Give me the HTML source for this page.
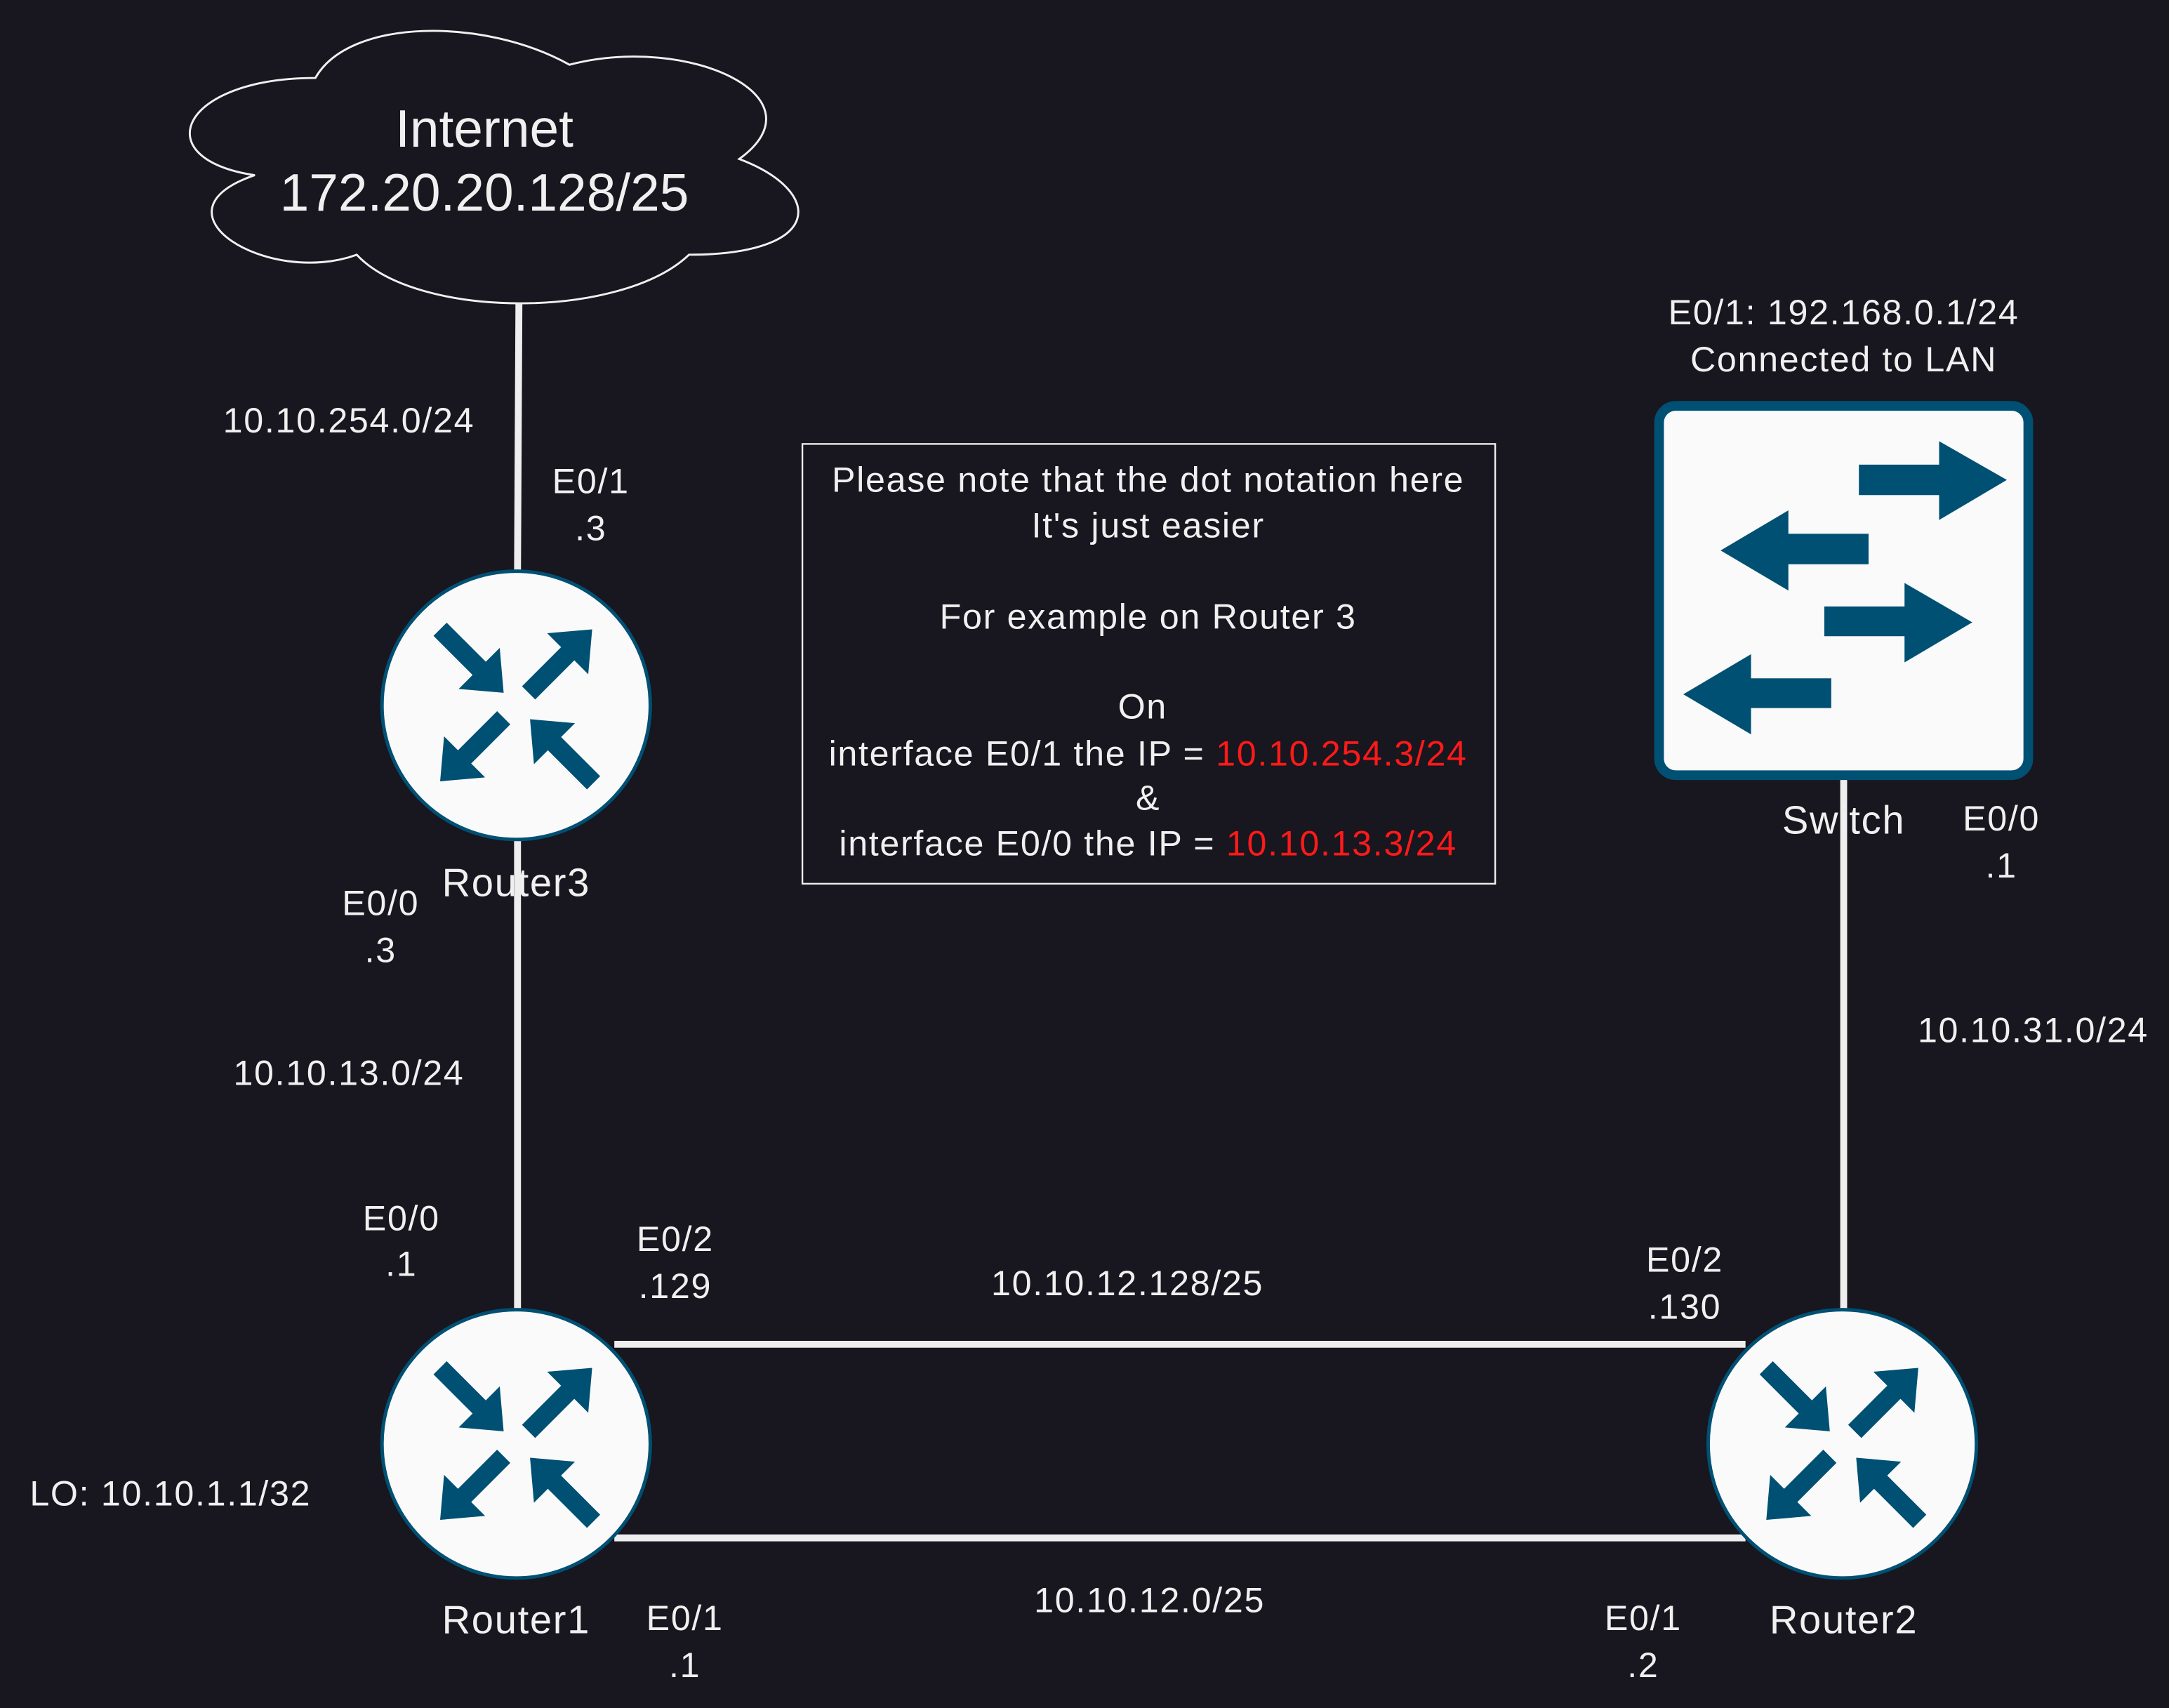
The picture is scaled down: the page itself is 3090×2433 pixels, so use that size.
<!DOCTYPE html>
<html><head><meta charset="utf-8"><style>
html,body{margin:0;padding:0;background:#18161e;}
svg{display:block;}
text{font-family:"Liberation Sans",Arial,sans-serif;fill:#f0f0f0;text-anchor:middle;dominant-baseline:central;}
.ls{letter-spacing:0.85px;}
</style></head><body>
<svg width="3090" height="2433" viewBox="0 0 1568 1235" xmlns="http://www.w3.org/2000/svg">
<defs>
<path id="ar" d="M0,-6.75 L40,-6.75 L40,-21 L65,0 L40,21 L40,6.75 L0,6.75 Z" fill="#005073"/>
<g id="router">
<circle cx="0" cy="0" r="97" fill="#fafafa" stroke="#005073" stroke-width="2.5"/>
<use href="#ar" transform="translate(-55,-55) rotate(45)"/>
<use href="#ar" transform="translate(9,-9) rotate(-45)"/>
<use href="#ar" transform="translate(-9,9) rotate(135)"/>
<use href="#ar" transform="translate(56,56) rotate(-135)"/>
</g>
</defs>
<rect width="1568" height="1235" fill="#18161e"/>
<g stroke="#eeeeee" stroke-width="5" fill="none">
<line x1="375" y1="218" x2="374" y2="412"/>
<line x1="374" y1="608" x2="374" y2="946"/>
<line x1="1333" y1="562" x2="1333" y2="946"/>
<line x1="444" y1="972" x2="1262" y2="972"/>
<line x1="444" y1="1112" x2="1262" y2="1112"/>
</g>
<g transform="translate(105,1) scale(1.068,1.065)">
<path d="M115,52 C23,52 0,107 74,118 C0,143 83,194 143,172 C184,216 322,216 368,172 C460,172 460,129 402,107 C460,65 368,22 287,43 C230,11 138,11 115,52 Z" fill="#18161e" stroke="#f0f0f0" stroke-width="1.4"/>
</g>
<text x="350" y="93" font-size="38">Internet</text>
<text x="350" y="139" font-size="38">172.20.20.128/25</text>
<use href="#router" transform="translate(373,510)"/>
<use href="#router" transform="translate(373,1044)"/>
<use href="#router" transform="translate(1332,1044)"/>
<rect x="1199.5" y="293.5" width="267" height="267" rx="12" fill="#fafafa" stroke="#005073" stroke-width="7"/>
<path d="M1344,336 L1402,336 L1402,319 L1451,347 L1402,376 L1402,358 L1344,358 Z" fill="#005073"/>
<path d="M1244,398 L1293,369 L1293,386 L1351,386 L1351,408 L1293,408 L1293,427 Z" fill="#005073"/>
<path d="M1319,438.5 L1377,438.5 L1377,421.5 L1426,450 L1377,479 L1377,460 L1319,460 Z" fill="#005073"/>
<path d="M1217,502 L1266,473 L1266,490.5 L1324,490.5 L1324,512 L1266,512 L1266,531 Z" fill="#005073"/>
<g font-size="25.5" class="ls">
<text x="252" y="304">10.10.254.0/24</text>
<text x="427" y="348">E0/1</text><text x="427" y="382">.3</text>
<text x="275" y="653">E0/0</text><text x="275" y="687">.3</text>
<text x="252" y="776">10.10.13.0/24</text>
<text x="290" y="881">E0/0</text><text x="290" y="914">.1</text>
<text x="488" y="896">E0/2</text><text x="488" y="930">.129</text>
<text x="815" y="928">10.10.12.128/25</text>
<text x="1218" y="911">E0/2</text><text x="1218" y="945">.130</text>
<text x="123" y="1080">LO: 10.10.1.1/32</text>
<text x="495" y="1170">E0/1</text><text x="495" y="1204">.1</text>
<text x="831" y="1157">10.10.12.0/25</text>
<text x="1188" y="1170">E0/1</text><text x="1188" y="1204">.2</text>
<text x="1333" y="226">E0/1: 192.168.0.1/24</text>
<text x="1333" y="260">Connected to LAN</text>
<text x="1447" y="592">E0/0</text><text x="1447" y="626">.1</text>
<text x="1470" y="745">10.10.31.0/24</text>
</g>
<g font-size="28.5" class="ls">
<text x="373" y="638">Router3</text>
<text x="373" y="1171">Router1</text>
<text x="1333" y="1171">Router2</text>
<text x="1333" y="593">Switch</text>
</g>
<rect x="580" y="321" width="501" height="318" fill="none" stroke="#f0f0f0" stroke-width="1.2"/>
<g font-size="25.5" class="ls">
<text x="830" y="347">Please note that the dot notation here</text>
<text x="830" y="380">It's just easier</text>
<text x="830" y="446">For example on Router 3</text>
<text x="826" y="511">On</text>
<text x="830" y="545">interface E0/1 the IP = <tspan fill="#ff1a1a">10.10.254.3/24</tspan></text>
<text x="830" y="577">&amp;</text>
<text x="830" y="610">interface E0/0 the IP = <tspan fill="#ff1a1a">10.10.13.3/24</tspan></text>
</g>
</svg>
</body></html>
